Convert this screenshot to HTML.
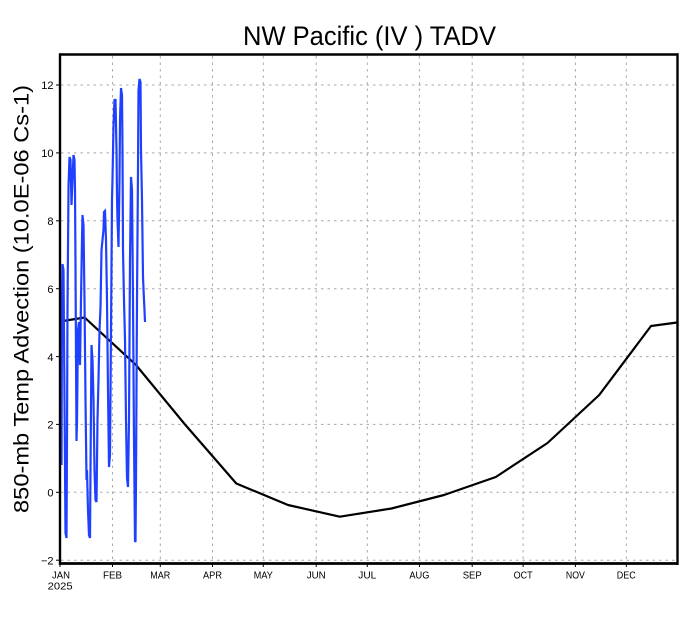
<!DOCTYPE html>
<html>
<head>
<meta charset="utf-8">
<style>
html,body{margin:0;padding:0;background:#fff;}
svg{display:block;}
text{font-family:"Liberation Sans",sans-serif;fill:#000;}
</style>
</head>
<body>
<svg width="690" height="618" viewBox="0 0 690 618" xmlns="http://www.w3.org/2000/svg">
<rect width="690" height="618" fill="#fff"/>
<!-- grid -->
<g stroke="#a8a8a8" stroke-width="1" stroke-dasharray="2.5,4" fill="none">
<line x1="112.5" y1="56" x2="112.5" y2="562"/>
<line x1="160.3" y1="56" x2="160.3" y2="562"/>
<line x1="212.5" y1="56" x2="212.5" y2="562"/>
<line x1="263.3" y1="56" x2="263.3" y2="562"/>
<line x1="316.2" y1="56" x2="316.2" y2="562"/>
<line x1="367.3" y1="56" x2="367.3" y2="562"/>
<line x1="419.4" y1="56" x2="419.4" y2="562"/>
<line x1="472.2" y1="56" x2="472.2" y2="562"/>
<line x1="523.1" y1="56" x2="523.1" y2="562"/>
<line x1="575.4" y1="56" x2="575.4" y2="562"/>
<line x1="626.3" y1="56" x2="626.3" y2="562"/>
<line x1="61" y1="85" x2="676" y2="85"/>
<line x1="61" y1="152.9" x2="676" y2="152.9"/>
<line x1="61" y1="220.8" x2="676" y2="220.8"/>
<line x1="61" y1="288.7" x2="676" y2="288.7"/>
<line x1="61" y1="356.6" x2="676" y2="356.6"/>
<line x1="61" y1="424.4" x2="676" y2="424.4"/>
<line x1="61" y1="492.3" x2="676" y2="492.3"/>
<line x1="61" y1="560.2" x2="676" y2="560.2"/>
</g>
<!-- climatology -->
<polyline fill="none" stroke="#000" stroke-width="2.2" stroke-linejoin="round"
points="60,321.5 84.6,317.5 136,365 184.6,424 236.3,483.5 288,505 339.8,516.7 391.5,508.5 444,495 495.8,477 547.5,443 599.2,395 651,326 677,322.5"/>
<!-- blue series -->
<polyline fill="none" stroke="#2040ff" stroke-width="2.2" stroke-linejoin="miter"
points="60.5,300 61,420 61.5,465 62,300 62.5,264 63.5,270 64.5,400 65.5,533 66.5,538 67,440 67.5,310 68.5,187 69.5,157 70.5,160 71.5,205 72.5,180 73.5,155 74.5,160 75,190 75.5,267 76.5,441 77,421 78,330 79,322 80,365 81,300 82,240 82.5,215 83.5,225 84.5,300 85.5,400 86.5,480 87,470 88,510 89,535 90,538 90.5,470 91.5,345 92.5,360 93.5,400 94.5,470 95.5,500 96.5,502 97.5,420 98.5,380 99.5,330 100.5,308 101.5,250 102.5,240 103.5,230 104,212 105,211 106,240 107,300 108,390 109,467 110,455 111,330 112,200 112.5,179 113.5,126 114.5,100 115.5,100 116.5,150 117,196 117.5,220 118.5,247 119.5,180 120,120 121,88 122,95 122.5,150 123,250 124,300 125,340 126,420 127,478 128,487 129,420 130,260 131,177 132,190 133,300 134,440 135,541 135.5,542 136,480 137,300 138,170 138.5,90 139.5,79 140.5,82 141,150 142,200 143,277 144,300 144.5,310 145,322"/>
<!-- frame -->
<g stroke="#000" fill="none">
<line x1="60" y1="54.5" x2="678.5" y2="54.5" stroke-width="2.4"/>
<line x1="60" y1="563.5" x2="678.5" y2="563.5" stroke-width="2.8"/>
<line x1="60" y1="53.3" x2="60" y2="564.9" stroke-width="2.4"/>
<line x1="677.5" y1="53.3" x2="677.5" y2="564.9" stroke-width="2.4"/>
</g>
<!-- ticks -->
<g stroke="#000" stroke-width="1">
<line x1="56" y1="85" x2="60" y2="85"/>
<line x1="56" y1="152.9" x2="60" y2="152.9"/>
<line x1="56" y1="220.8" x2="60" y2="220.8"/>
<line x1="56" y1="288.7" x2="60" y2="288.7"/>
<line x1="56" y1="356.6" x2="60" y2="356.6"/>
<line x1="56" y1="424.4" x2="60" y2="424.4"/>
<line x1="56" y1="492.3" x2="60" y2="492.3"/>
<line x1="56" y1="560.2" x2="60" y2="560.2"/>
<line x1="60" y1="563" x2="60" y2="567"/>
<line x1="112.5" y1="563" x2="112.5" y2="567"/>
<line x1="160.3" y1="563" x2="160.3" y2="567"/>
<line x1="212.5" y1="563" x2="212.5" y2="567"/>
<line x1="263.3" y1="563" x2="263.3" y2="567"/>
<line x1="316.2" y1="563" x2="316.2" y2="567"/>
<line x1="367.3" y1="563" x2="367.3" y2="567"/>
<line x1="419.4" y1="563" x2="419.4" y2="567"/>
<line x1="472.2" y1="563" x2="472.2" y2="567"/>
<line x1="523.1" y1="563" x2="523.1" y2="567"/>
<line x1="575.4" y1="563" x2="575.4" y2="567"/>
<line x1="626.3" y1="563" x2="626.3" y2="567"/>
</g>
<!-- y tick labels -->
<g font-size="11" text-anchor="end">
<text x="53.5" y="89">12</text>
<text x="53.5" y="157">10</text>
<text x="53.5" y="225">8</text>
<text x="53.5" y="293">6</text>
<text x="53.5" y="361">4</text>
<text x="53.5" y="428.5">2</text>
<text x="53.5" y="496.5">0</text>
<text x="53.5" y="564.5">−2</text>
</g>
<!-- x tick labels -->
<g font-size="10.5" text-anchor="middle">
<text x="61" y="578.5" textLength="18" lengthAdjust="spacingAndGlyphs">JAN</text>
<text x="60.2" y="589.5" textLength="25" lengthAdjust="spacingAndGlyphs">2025</text>
<text x="112.5" y="578.5" textLength="19" lengthAdjust="spacingAndGlyphs">FEB</text>
<text x="160.3" y="578.5" textLength="20" lengthAdjust="spacingAndGlyphs">MAR</text>
<text x="212.5" y="578.5" textLength="19" lengthAdjust="spacingAndGlyphs">APR</text>
<text x="263.3" y="578.5" textLength="19" lengthAdjust="spacingAndGlyphs">MAY</text>
<text x="316.2" y="578.5" textLength="19" lengthAdjust="spacingAndGlyphs">JUN</text>
<text x="367.3" y="578.5" textLength="18" lengthAdjust="spacingAndGlyphs">JUL</text>
<text x="419.4" y="578.5" textLength="20" lengthAdjust="spacingAndGlyphs">AUG</text>
<text x="472.2" y="578.5" textLength="19" lengthAdjust="spacingAndGlyphs">SEP</text>
<text x="523.1" y="578.5" textLength="19" lengthAdjust="spacingAndGlyphs">OCT</text>
<text x="575.4" y="578.5" textLength="19" lengthAdjust="spacingAndGlyphs">NOV</text>
<text x="626.3" y="578.5" textLength="19" lengthAdjust="spacingAndGlyphs">DEC</text>
</g>
<!-- title -->
<text x="369.5" y="45" font-size="27" text-anchor="middle" textLength="253" lengthAdjust="spacingAndGlyphs">NW Pacific (IV ) TADV</text>
<!-- y axis title -->
<text transform="translate(28.5,299) rotate(-90)" font-size="21" text-anchor="middle" textLength="428" lengthAdjust="spacingAndGlyphs">850-mb Temp Advection (10.0E-06 Cs-1)</text>
</svg>
</body>
</html>
